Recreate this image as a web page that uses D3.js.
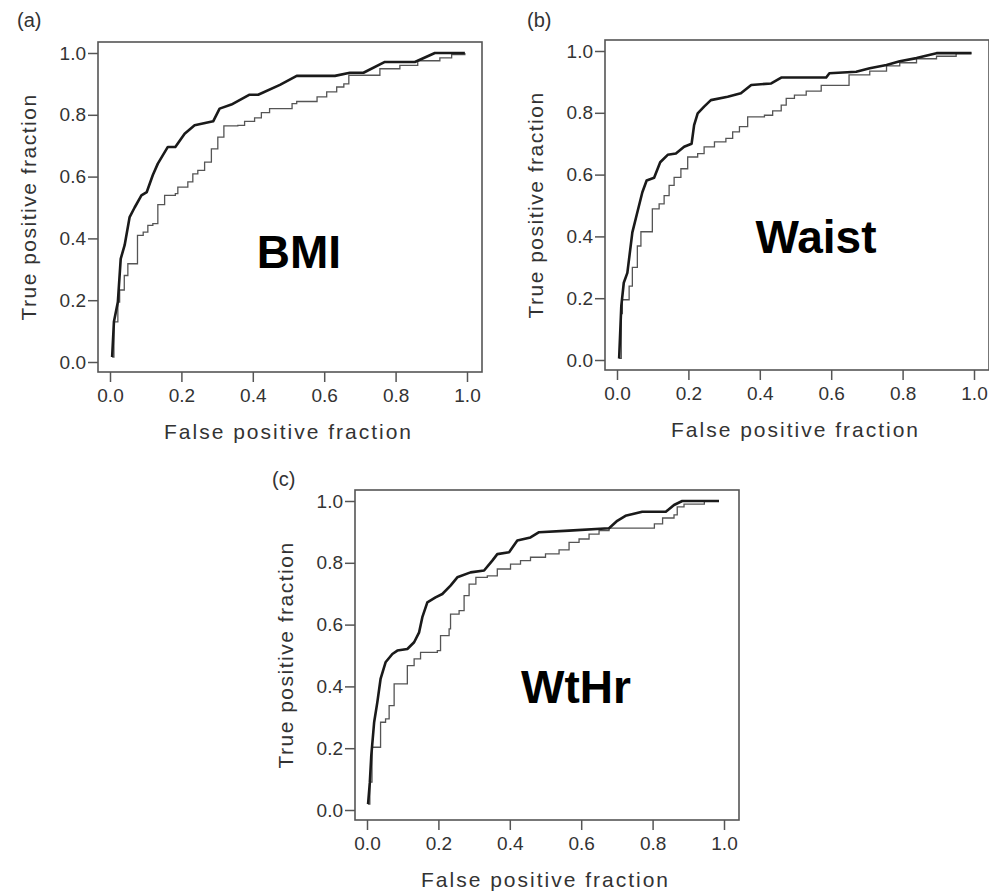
<!DOCTYPE html>
<html>
<head>
<meta charset="utf-8">
<script src="https://cdn.jsdelivr.net/npm/d3@7"></script>
<style>
  body { margin: 0; background: #fff; }
  text { font-family: "Liberation Sans", Arial, sans-serif; }
</style>
</head>
<body>
<script>
const width = 989;
const height = 892;

// tick values shared by every panel
const ticks = [0.0, 0.2, 0.4, 0.6, 0.8, 1.0];

// (a) BMI as [false positive, true positive]
const bmiBold = [[0.006,0.016],[0.011,0.13],[0.022,0.194],[0.030,0.334],[0.041,0.378],[0.055,0.469],
  [0.069,0.50],[0.088,0.539],[0.103,0.55],[0.120,0.605],[0.134,0.642],[0.162,0.696],[0.183,0.696],
  [0.209,0.739],[0.237,0.766],[0.289,0.779],[0.307,0.82],[0.340,0.833],[0.391,0.865],[0.415,0.865],
  [0.476,0.897],[0.523,0.926],[0.630,0.926],[0.672,0.936],[0.710,0.936],[0.770,0.971],[0.854,0.971],
  [0.910,1.0],[0.994,1.0]];
const bmiThin = [[0.006,0.016],[0.011,0.13],[0.022,0.194],[0.027,0.233],[0.031,0.233],[0.040,0.28],
  [0.050,0.318],[0.062,0.318],[0.077,0.41],[0.093,0.42],[0.106,0.442],[0.120,0.448],[0.134,0.509],
  [0.153,0.539],[0.183,0.545],[0.190,0.566],[0.218,0.583],[0.232,0.609],[0.246,0.62],[0.265,0.647],
  [0.284,0.69],[0.302,0.728],[0.319,0.764],[0.358,0.766],[0.377,0.779],[0.405,0.79],[0.424,0.807],
  [0.447,0.82],[0.504,0.82],[0.510,0.836],[0.523,0.843],[0.577,0.843],[0.580,0.858],[0.607,0.874],
  [0.635,0.89],[0.655,0.9],[0.669,0.928],[0.747,0.928],[0.756,0.949],[0.812,0.96],[0.859,0.96],
  [0.862,0.975],[0.924,0.984],[0.957,0.995],[0.994,1.0]];

// (b) Waist
const waistBold = [[0.006,0.005],[0.012,0.174],[0.019,0.25],[0.029,0.282],[0.043,0.413],[0.057,0.478],
  [0.071,0.543],[0.083,0.581],[0.104,0.59],[0.121,0.64],[0.142,0.664],[0.165,0.668],[0.188,0.69],
  [0.209,0.70],[0.216,0.76],[0.226,0.798],[0.244,0.82],[0.263,0.841],[0.310,0.852],[0.347,0.863],
  [0.376,0.89],[0.432,0.895],[0.460,0.914],[0.586,0.914],[0.595,0.928],[0.670,0.933],[0.708,0.944],
  [0.755,0.955],[0.792,0.967],[0.839,0.977],[0.895,0.993],[0.993,0.993]];
const waistThin = [[0.006,0.005],[0.012,0.15],[0.015,0.195],[0.029,0.195],[0.034,0.239],[0.043,0.30],
  [0.057,0.369],[0.067,0.415],[0.085,0.415],[0.099,0.489],[0.118,0.505],[0.132,0.532],[0.146,0.565],
  [0.160,0.591],[0.179,0.619],[0.198,0.657],[0.226,0.668],[0.244,0.69],[0.273,0.706],[0.305,0.717],
  [0.324,0.738],[0.343,0.755],[0.366,0.787],[0.413,0.792],[0.436,0.806],[0.460,0.825],[0.474,0.847],
  [0.497,0.857],[0.525,0.857],[0.530,0.87],[0.567,0.87],[0.572,0.889],[0.642,0.889],[0.650,0.923],
  [0.708,0.935],[0.755,0.952],[0.792,0.962],[0.839,0.975],[0.895,0.983],[0.942,0.983],[0.950,0.993],
  [0.993,0.993]];

// (c) WtHr
const wthrBold = [[0.003,0.019],[0.008,0.09],[0.012,0.176],[0.020,0.284],[0.029,0.349],[0.038,0.424],
  [0.052,0.478],[0.071,0.505],[0.085,0.516],[0.113,0.521],[0.132,0.543],[0.146,0.575],[0.155,0.624],
  [0.169,0.672],[0.192,0.688],[0.211,0.699],[0.234,0.726],[0.253,0.753],[0.290,0.769],[0.328,0.775],
  [0.351,0.807],[0.365,0.828],[0.398,0.834],[0.421,0.872],[0.458,0.882],[0.482,0.899],[0.566,0.904],
  [0.678,0.912],[0.701,0.936],[0.724,0.952],[0.771,0.965],[0.837,0.965],[0.860,0.987],[0.883,1.0],
  [0.986,1.0]];
const wthrThin = [[0.003,0.019],[0.008,0.09],[0.014,0.203],[0.029,0.203],[0.038,0.284],[0.052,0.295],
  [0.062,0.338],[0.076,0.408],[0.104,0.408],[0.113,0.467],[0.132,0.489],[0.150,0.51],[0.197,0.516],
  [0.206,0.564],[0.230,0.586],[0.234,0.634],[0.258,0.645],[0.272,0.694],[0.286,0.731],[0.305,0.753],
  [0.337,0.758],[0.365,0.78],[0.402,0.796],[0.430,0.807],[0.458,0.818],[0.500,0.829],[0.538,0.842],
  [0.566,0.866],[0.594,0.877],[0.622,0.893],[0.650,0.904],[0.678,0.912],[0.795,0.912],[0.805,0.926],
  [0.828,0.945],[0.860,0.955],[0.869,0.981],[0.888,0.99],[0.939,0.99],[0.945,1.0],[0.986,1.0]];

const panels = [
  {tag: "(a)", name: "BMI", bold: bmiBold, thin: bmiThin, left: 98, top: 42,
   tagX: 17, tagY: 27, nameX: 299, nameY: 268},
  {tag: "(b)", name: "Waist", bold: waistBold, thin: waistThin, left: 605, top: 40,
   tagX: 527, tagY: 27, nameX: 816, nameY: 253},
  {tag: "(c)", name: "WtHr", bold: wthrBold, thin: wthrThin, left: 355, top: 490,
   tagX: 272, tagY: 486, nameX: 576, nameY: 703}
];

const boxW = 384;
const boxH = 330;
const fmt = d3.format(".1f");

const svg = d3.select("body").append("svg")
    .attr("width", width)
    .attr("height", height);

panels.forEach(p => {
  const x = d3.scaleLinear().domain([0, 1]).range([p.left + 12, p.left + 369]);
  const y = d3.scaleLinear().domain([0, 1]).range([p.top + 320, p.top + 11]);

  const g = svg.append("g");

  // axes
  const xAxis = g.append("g")
      .attr("transform", "translate(0," + (p.top + boxH) + ")")
      .call(d3.axisBottom(x).tickValues(ticks).tickFormat(fmt).tickSize(10).tickPadding(7));
  const yAxis = g.append("g")
      .attr("transform", "translate(" + p.left + ",0)")
      .call(d3.axisLeft(y).tickValues(ticks).tickFormat(fmt).tickSize(10).tickPadding(2));
  [xAxis, yAxis].forEach(a => {
    a.select(".domain").remove();
    a.selectAll(".tick line").attr("stroke", "#555").attr("stroke-width", 1.5);
    a.selectAll(".tick text")
        .attr("fill", "#333")
        .style("font-size", "19px")
        .style("font-family", "'Liberation Sans', Arial, sans-serif");
  });

  // frame
  g.append("rect")
      .attr("x", p.left)
      .attr("y", p.top)
      .attr("width", boxW)
      .attr("height", boxH)
      .attr("fill", "none")
      .attr("stroke", "#555")
      .attr("stroke-width", 1.6);

  // curves
  g.append("path")
      .datum(p.thin)
      .attr("fill", "none")
      .attr("stroke", "#555")
      .attr("stroke-width", 1.3)
      .attr("d", d3.line().x(d => x(d[0])).y(d => y(d[1])).curve(d3.curveStepAfter));
  g.append("path")
      .datum(p.bold)
      .attr("fill", "none")
      .attr("stroke", "#1a1a1a")
      .attr("stroke-width", 2.6)
      .attr("stroke-linejoin", "round")
      .attr("d", d3.line().x(d => x(d[0])).y(d => y(d[1])));

  // titles
  g.append("text")
      .attr("x", (x(0) + x(1)) / 2)
      .attr("y", p.top + boxH + 67)
      .attr("text-anchor", "middle")
      .attr("fill", "#333")
      .style("font-size", "21px")
      .style("letter-spacing", "2px")
      .text("False positive fraction");
  g.append("text")
      .attr("transform", "translate(" + (p.left - 62) + "," + (p.top + boxH / 2) + ") rotate(-90)")
      .attr("text-anchor", "middle")
      .attr("fill", "#333")
      .style("font-size", "21px")
      .style("letter-spacing", "1.5px")
      .text("True positive fraction");
  g.append("text")
      .attr("x", p.tagX)
      .attr("y", p.tagY)
      .attr("fill", "#333")
      .style("font-size", "20px")
      .text(p.tag);
  g.append("text")
      .attr("x", p.nameX)
      .attr("y", p.nameY)
      .attr("text-anchor", "middle")
      .attr("fill", "#000")
      .style("font-size", "46px")
      .style("font-weight", "bold")
      .text(p.name);
});
</script>
</body>
</html>
